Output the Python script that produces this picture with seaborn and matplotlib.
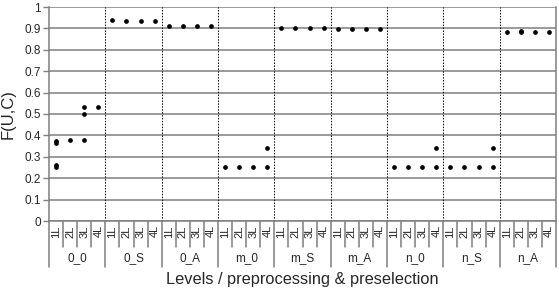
import pandas as pd
import seaborn as sns
import matplotlib.pyplot as plt

groups = ["0_0", "0_S", "0_A", "m_0", "m_S", "m_A", "n_0", "n_S", "n_A"]
levels = ["1L", "2L", "3L", "4L"]

# (group, level, F(U,C)) - several runs per cell in some cases
g_0_0 = [("1L", 0.372), ("1L", 0.366), ("1L", 0.260), ("1L", 0.254),
         ("2L", 0.377), ("3L", 0.377), ("3L", 0.500), ("3L", 0.535),
         ("4L", 0.535)]
g_0_S = [("1L", 0.937), ("2L", 0.935), ("3L", 0.935), ("4L", 0.935)]
g_0_A = [("1L", 0.912), ("2L", 0.912), ("3L", 0.912), ("4L", 0.912)]
g_m_0 = [("1L", 0.252), ("2L", 0.252), ("3L", 0.252), ("4L", 0.252), ("4L", 0.342)]
g_m_S = [("1L", 0.902), ("2L", 0.903), ("3L", 0.903), ("4L", 0.904)]
g_m_A = [("1L", 0.897), ("2L", 0.897), ("3L", 0.897), ("4L", 0.897)]
g_n_0 = [("1L", 0.252), ("2L", 0.252), ("3L", 0.252), ("4L", 0.252), ("4L", 0.342)]
g_n_S = [("1L", 0.252), ("2L", 0.252), ("3L", 0.252), ("4L", 0.252), ("4L", 0.342)]
g_n_A = [("1L", 0.883), ("2L", 0.882), ("2L", 0.886), ("3L", 0.885), ("4L", 0.885)]

all_groups = [g_0_0, g_0_S, g_0_A, g_m_0, g_m_S, g_m_A, g_n_0, g_n_S, g_n_A]

rows = []
for g, pts in zip(groups, all_groups):
    for lev, v in pts:
        rows.append({"cat": f"{g}|{lev}", "value": v})
df = pd.DataFrame(rows)
order = [f"{g}|{l}" for g in groups for l in levels]

sns.set_style("white")
plt.rcParams["font.family"] = ["Liberation Sans", "DejaVu Sans"]

fig = plt.figure(figsize=(5.59, 2.90), dpi=100)
ax = fig.add_axes([49 / 559, 69 / 290, 507 / 559, 214 / 290])

grid_c = "#7f7f7f"
for i in range(11):
    ax.axhline(i / 10, color=grid_c, lw=1.1, zorder=0)

sns.stripplot(data=df, x="cat", y="value", order=order, jitter=False,
              color="black", size=3.4, linewidth=0, ax=ax, zorder=3)

for k in range(1, len(groups)):
    ax.axvline(4 * k - 0.5, color="black", lw=0.7, ls=(0, (1.5, 1.5)), zorder=1)

ax.set_xlim(-0.5, len(order) - 0.5)
ax.set_ylim(0, 1)
ax.set_yticks([i / 10 for i in range(11)])
ax.set_yticklabels(["0"] + [f"0.{i}" for i in range(1, 10)] + ["1"], fontsize=8.5)
ax.set_xticks(range(len(order)))
ax.set_xticklabels([l for g in groups for l in levels], rotation=90, fontsize=8)
ax.tick_params(axis="x", length=0, pad=3)
ax.tick_params(axis="y", length=4, color=grid_c, width=1, left=True, pad=2)

for s in ["left", "right", "bottom"]:
    ax.spines[s].set_color(grid_c)
    ax.spines[s].set_linewidth(1.1)
ax.spines["top"].set_visible(False)

# category cells below the axis
tr = ax.get_xaxis_transform()
for k in range(len(order) + 1):
    x = k - 0.5
    y_end = -0.215 if k % 4 == 0 else -0.12
    ax.plot([x, x], [0, y_end], transform=tr, color=grid_c, lw=1.1, clip_on=False)

for i, g in enumerate(groups):
    ax.text(4 * i + 1.5, -0.172, g, transform=tr, ha="center", va="center", fontsize=8.5)

ax.set_xlabel("")
ax.text(0.5, -0.272, "Levels / preprocessing & preselection", transform=ax.transAxes,
        ha="center", va="center", fontsize=11.8)
ax.set_ylabel("F(U,C)", fontsize=12, labelpad=6)

fig.savefig("out.png", dpi=100)
